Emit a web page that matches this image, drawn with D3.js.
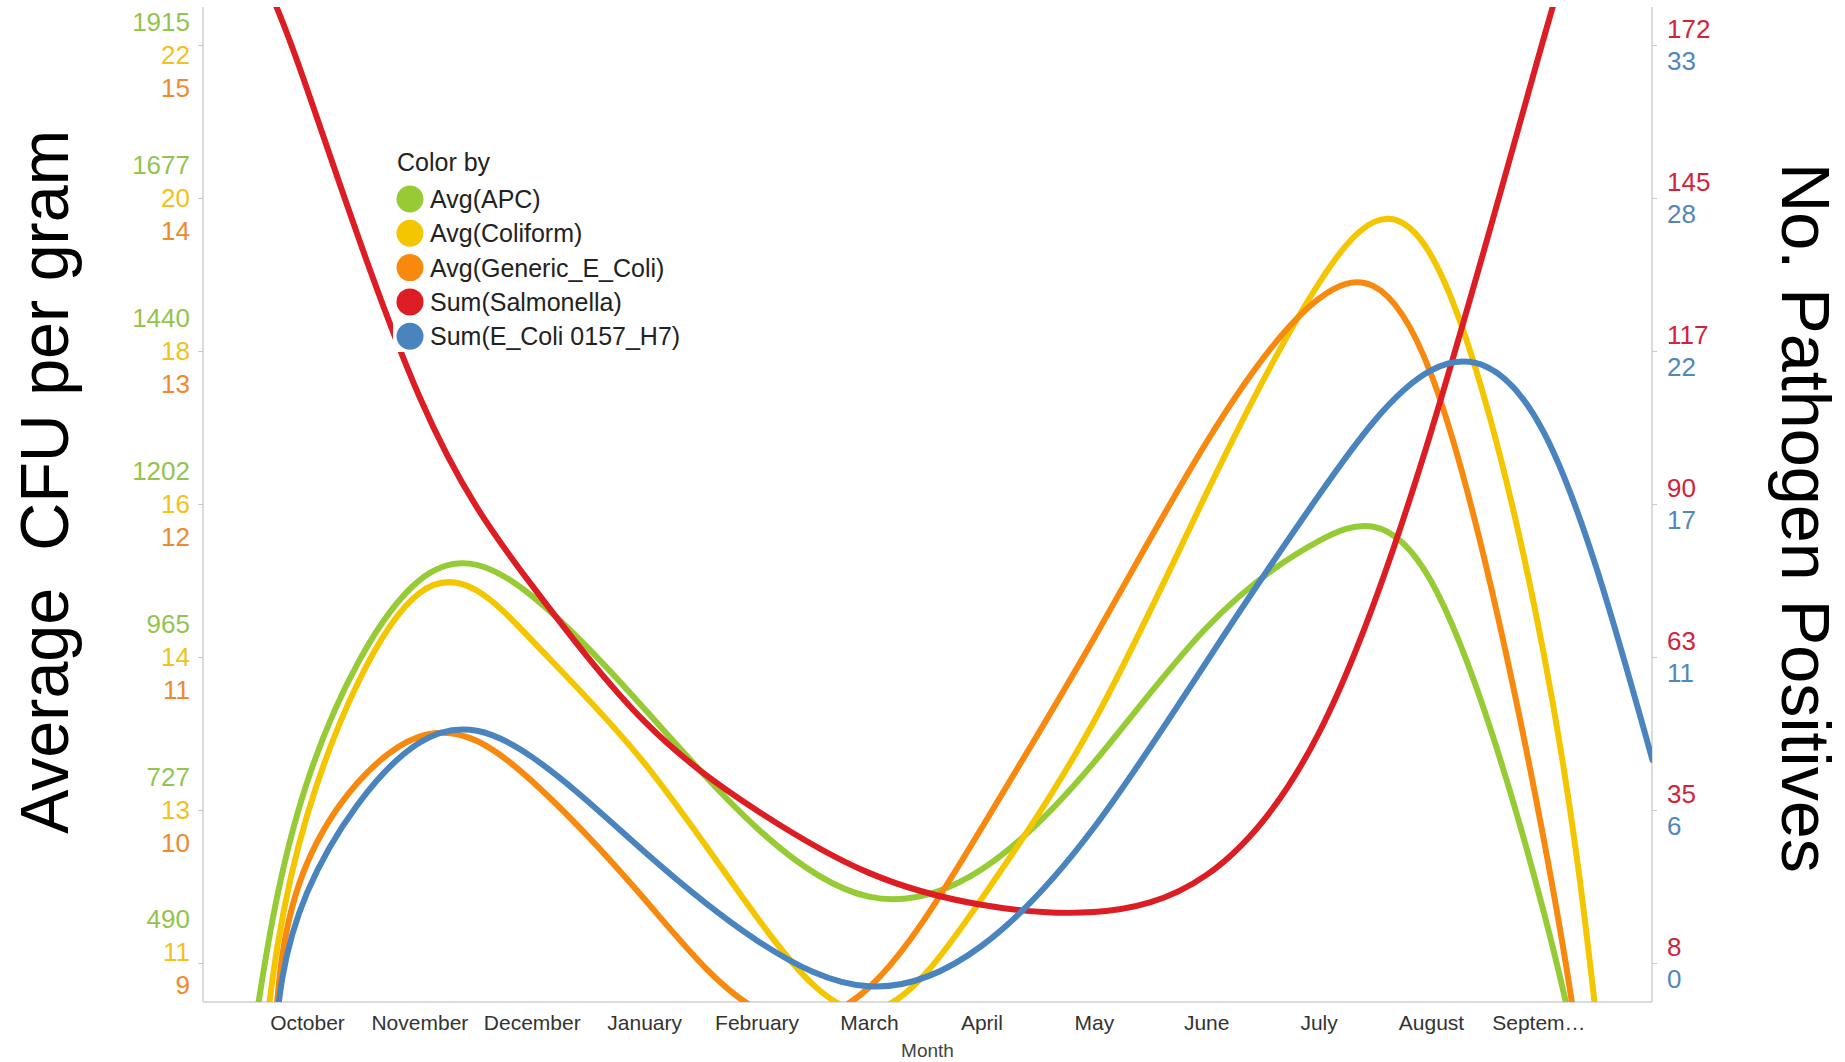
<!DOCTYPE html>
<html><head><meta charset="utf-8">
<script src="https://cdn.jsdelivr.net/npm/d3@7"></script>
<style>
body{margin:0;background:#fff;}
svg text{font-family:"Liberation Sans",Arial,sans-serif;}
</style>
</head><body>
<svg id="chart" width="1845" height="1062"></svg>
<script>
// ---------- data ----------
const months = ["October","November","December","January","February","March","April","May","June","July","August","Septem\u2026"];

const apcTicks = [490,727.5,965,1202.5,1440,1677.5,1915];
const apcLabels = ["490","727","965","1202","1440","1677","1915"];
const coliformTicks = [10.8,12.62,14.44,16.26,18.08,19.9,21.72];
const coliformLabels = ["11","13","14","16","18","20","22"];
const genericTicks = [9,10,11,12,13,14,15];
const genericLabels = ["9","10","11","12","13","14","15"];
const salmTicks = [8,35.33,62.67,90,117.33,144.67,172];
const salmLabels = ["8","35","63","90","117","145","172"];
const o157Ticks = [0,5.5,11,16.5,22,27.5,33];
const o157Labels = ["0","6","11","17","22","28","33"];

// [month index (0 = October), value]
const apcData = [[-0.5,350],[0,770],[1,1084],[2,1060],[3,885],[4,700],[5,593],[6,635],[7,801],[8,1010],[9,1145],[10,1083],[11,571],[11.4,250]];
const coliformData = [[-0.4,9.59],[0,12.55],[1,15.2],[2,14.64],[3,13.18],[4,11.35],[5,10.23],[6,11.56],[7,13.67],[8,16.38],[9,18.88],[10,19.22],[11,14.5],[11.5,9.8]];
const genericData = [[-0.3,8.41],[0,9.65],[1,10.48],[2,10.19],[3,9.42],[4,8.70],[5,8.84],[6,9.88],[7,11.12],[8,12.4],[9,13.34],[10,12.85],[11,9.82],[11.4,7.95]];
const salmData = [[-0.4,184.3],[0,164.2],[1,109.2],[2,75.5],[3,51.2],[4,35.3],[5,24.1],[6,18.4],[7,17.1],[8,23.7],[9,49.0],[10,102.9],[11,173],[11.5,206]];
const o157Data = [[-0.3,-3.5],[0,2.52],[1,7.92],[2,7.41],[3,4.01],[4,0.82],[5,-0.84],[6,0.61],[7,4.86],[8,10.81],[9,16.8],[10,21.3],[11,19.1],[11.97,7.3]];

const seriesNames = ["Avg(APC)","Avg(Coliform)","Avg(Generic_E_Coli)","Sum(Salmonella)","Sum(E_Coli 0157_H7)"];

// ---------- layout ----------
const svg = d3.select("#chart");
const plot = {left:203, right:1652, top:7, bottom:1002};
const tickTop = 45, tickBottom = 963;

const x = d3.scaleLinear().domain([-0.925, 11.966]).range([plot.left, plot.right]);
const mk = t => d3.scaleLinear().domain([t[0], t[t.length-1]]).range([tickBottom, tickTop]);

const series = [
  {name:seriesNames[0], data:apcData, ticks:apcTicks, labels:apcLabels, color:"#97cb36", label:"#93c44e", side:"left", off:-33},
  {name:seriesNames[1], data:coliformData, ticks:coliformTicks, labels:coliformLabels, color:"#f4c600", label:"#efc21c", side:"left", off:0},
  {name:seriesNames[2], data:genericData, ticks:genericTicks, labels:genericLabels, color:"#f7890f", label:"#ee8a2c", side:"left", off:33},
  {name:seriesNames[3], data:salmData, ticks:salmTicks, labels:salmLabels, color:"#dc1d24", label:"#d0243a", side:"right", off:-16},
  {name:seriesNames[4], data:o157Data, ticks:o157Ticks, labels:o157Labels, color:"#4a84bf", label:"#5387b9", side:"right", off:16}
];
series.forEach(s => s.y = mk(s.ticks));

// frame
const frame = svg.append("g").attr("stroke","#cfcfcf").attr("stroke-width",1.5);
frame.append("line").attr("x1",plot.left).attr("x2",plot.left).attr("y1",plot.top).attr("y2",plot.bottom);
frame.append("line").attr("x1",plot.right).attr("x2",plot.right).attr("y1",plot.top).attr("y2",plot.bottom);
frame.append("line").attr("x1",plot.left).attr("x2",plot.right).attr("y1",plot.bottom).attr("y2",plot.bottom);

// tick marks
const tl = svg.append("g").attr("transform",`translate(${plot.left},0)`)
  .call(d3.axisLeft(series[0].y).tickValues(apcTicks).tickSize(5).tickFormat(""));
const tr = svg.append("g").attr("transform",`translate(${plot.right},0)`)
  .call(d3.axisRight(series[3].y).tickValues(salmTicks).tickSize(5).tickFormat(""));
[tl,tr].forEach(g => { g.select(".domain").remove(); g.selectAll("line").attr("stroke","#c8c8c8"); });

// tick labels
series.forEach(s => {
  const ax = s.side === "left"
    ? d3.axisLeft(s.y).tickPadding(13)
    : d3.axisRight(s.y).tickPadding(15);
  ax.tickValues(s.ticks).tickSize(0).tickFormat((d,i) => s.labels[i]);
  const g = svg.append("g")
    .attr("transform",`translate(${s.side==="left"?plot.left:plot.right},0)`)
    .call(ax);
  g.select(".domain").remove();
  g.selectAll("text")
    .attr("fill", s.label)
    .style("font-size","26px")
    .style("font-family","'Liberation Sans',Arial,sans-serif")
    .attr("transform",(d,i) => {
      let sh = 0;
      if (s.side === "left") { if (i === s.ticks.length-1) sh = 10; if (i === 0) sh = -11; }
      return `translate(0,${s.off + sh})`;
    });
});

// x axis labels
const xa = svg.append("g").attr("transform",`translate(0,${plot.bottom})`)
  .call(d3.axisBottom(x).tickValues(months.map((m,i)=>i)).tickFormat(i => months[i]).tickSize(0).tickPadding(13));
xa.select(".domain").remove();
xa.selectAll("text").attr("fill","#333").style("font-size","21px")
  .attr("dx",(d,i) => i === months.length-1 ? -5 : 0);

svg.append("text").attr("x",(plot.left+plot.right)/2).attr("y",1057)
  .attr("text-anchor","middle").attr("fill","#444").style("font-size","19px").text("Month");

// axis titles
svg.append("text")
  .attr("transform","translate(68,482) rotate(-90)")
  .attr("text-anchor","middle")
  .attr("textLength",704).attr("lengthAdjust","spacingAndGlyphs")
  .style("font-size","69px").style("white-space","pre").attr("fill","#000")
  .text("Average  CFU per gram");
svg.append("text")
  .attr("transform","translate(1782,518) rotate(90)")
  .attr("text-anchor","middle")
  .attr("textLength",710).attr("lengthAdjust","spacingAndGlyphs")
  .style("font-size","68px").attr("fill","#000")
  .text("No. Pathogen Positives");

// lines
svg.append("clipPath").attr("id","clip").append("rect")
  .attr("x",plot.left).attr("y",plot.top).attr("width",plot.right-plot.left).attr("height",plot.bottom-plot.top);
const lines = svg.append("g").attr("clip-path","url(#clip)");
series.forEach(s => {
  const line = d3.line().x(d => x(d[0])).y(d => s.y(d[1])).curve(d3.curveNatural);
  lines.append("path").attr("d", line(s.data)).attr("fill","none")
    .attr("stroke", s.color).attr("stroke-width",6).attr("stroke-linecap","round");
});

// legend
const lg = svg.append("g");
lg.append("rect").attr("x",393).attr("y",142).attr("width",300).attr("height",210).attr("fill","#fff");
lg.append("text").attr("x",397).attr("y",171).attr("fill","#222").style("font-size","25px").text("Color by");
series.forEach((s,i) => {
  const cy = 199 + i*34.3;
  lg.append("circle").attr("cx",410).attr("cy",cy).attr("r",13.5).attr("fill",s.color);
  lg.append("text").attr("x",430).attr("y",cy+9).attr("fill","#222").style("font-size","25px").text(s.name);
});
</script>
</body></html>
